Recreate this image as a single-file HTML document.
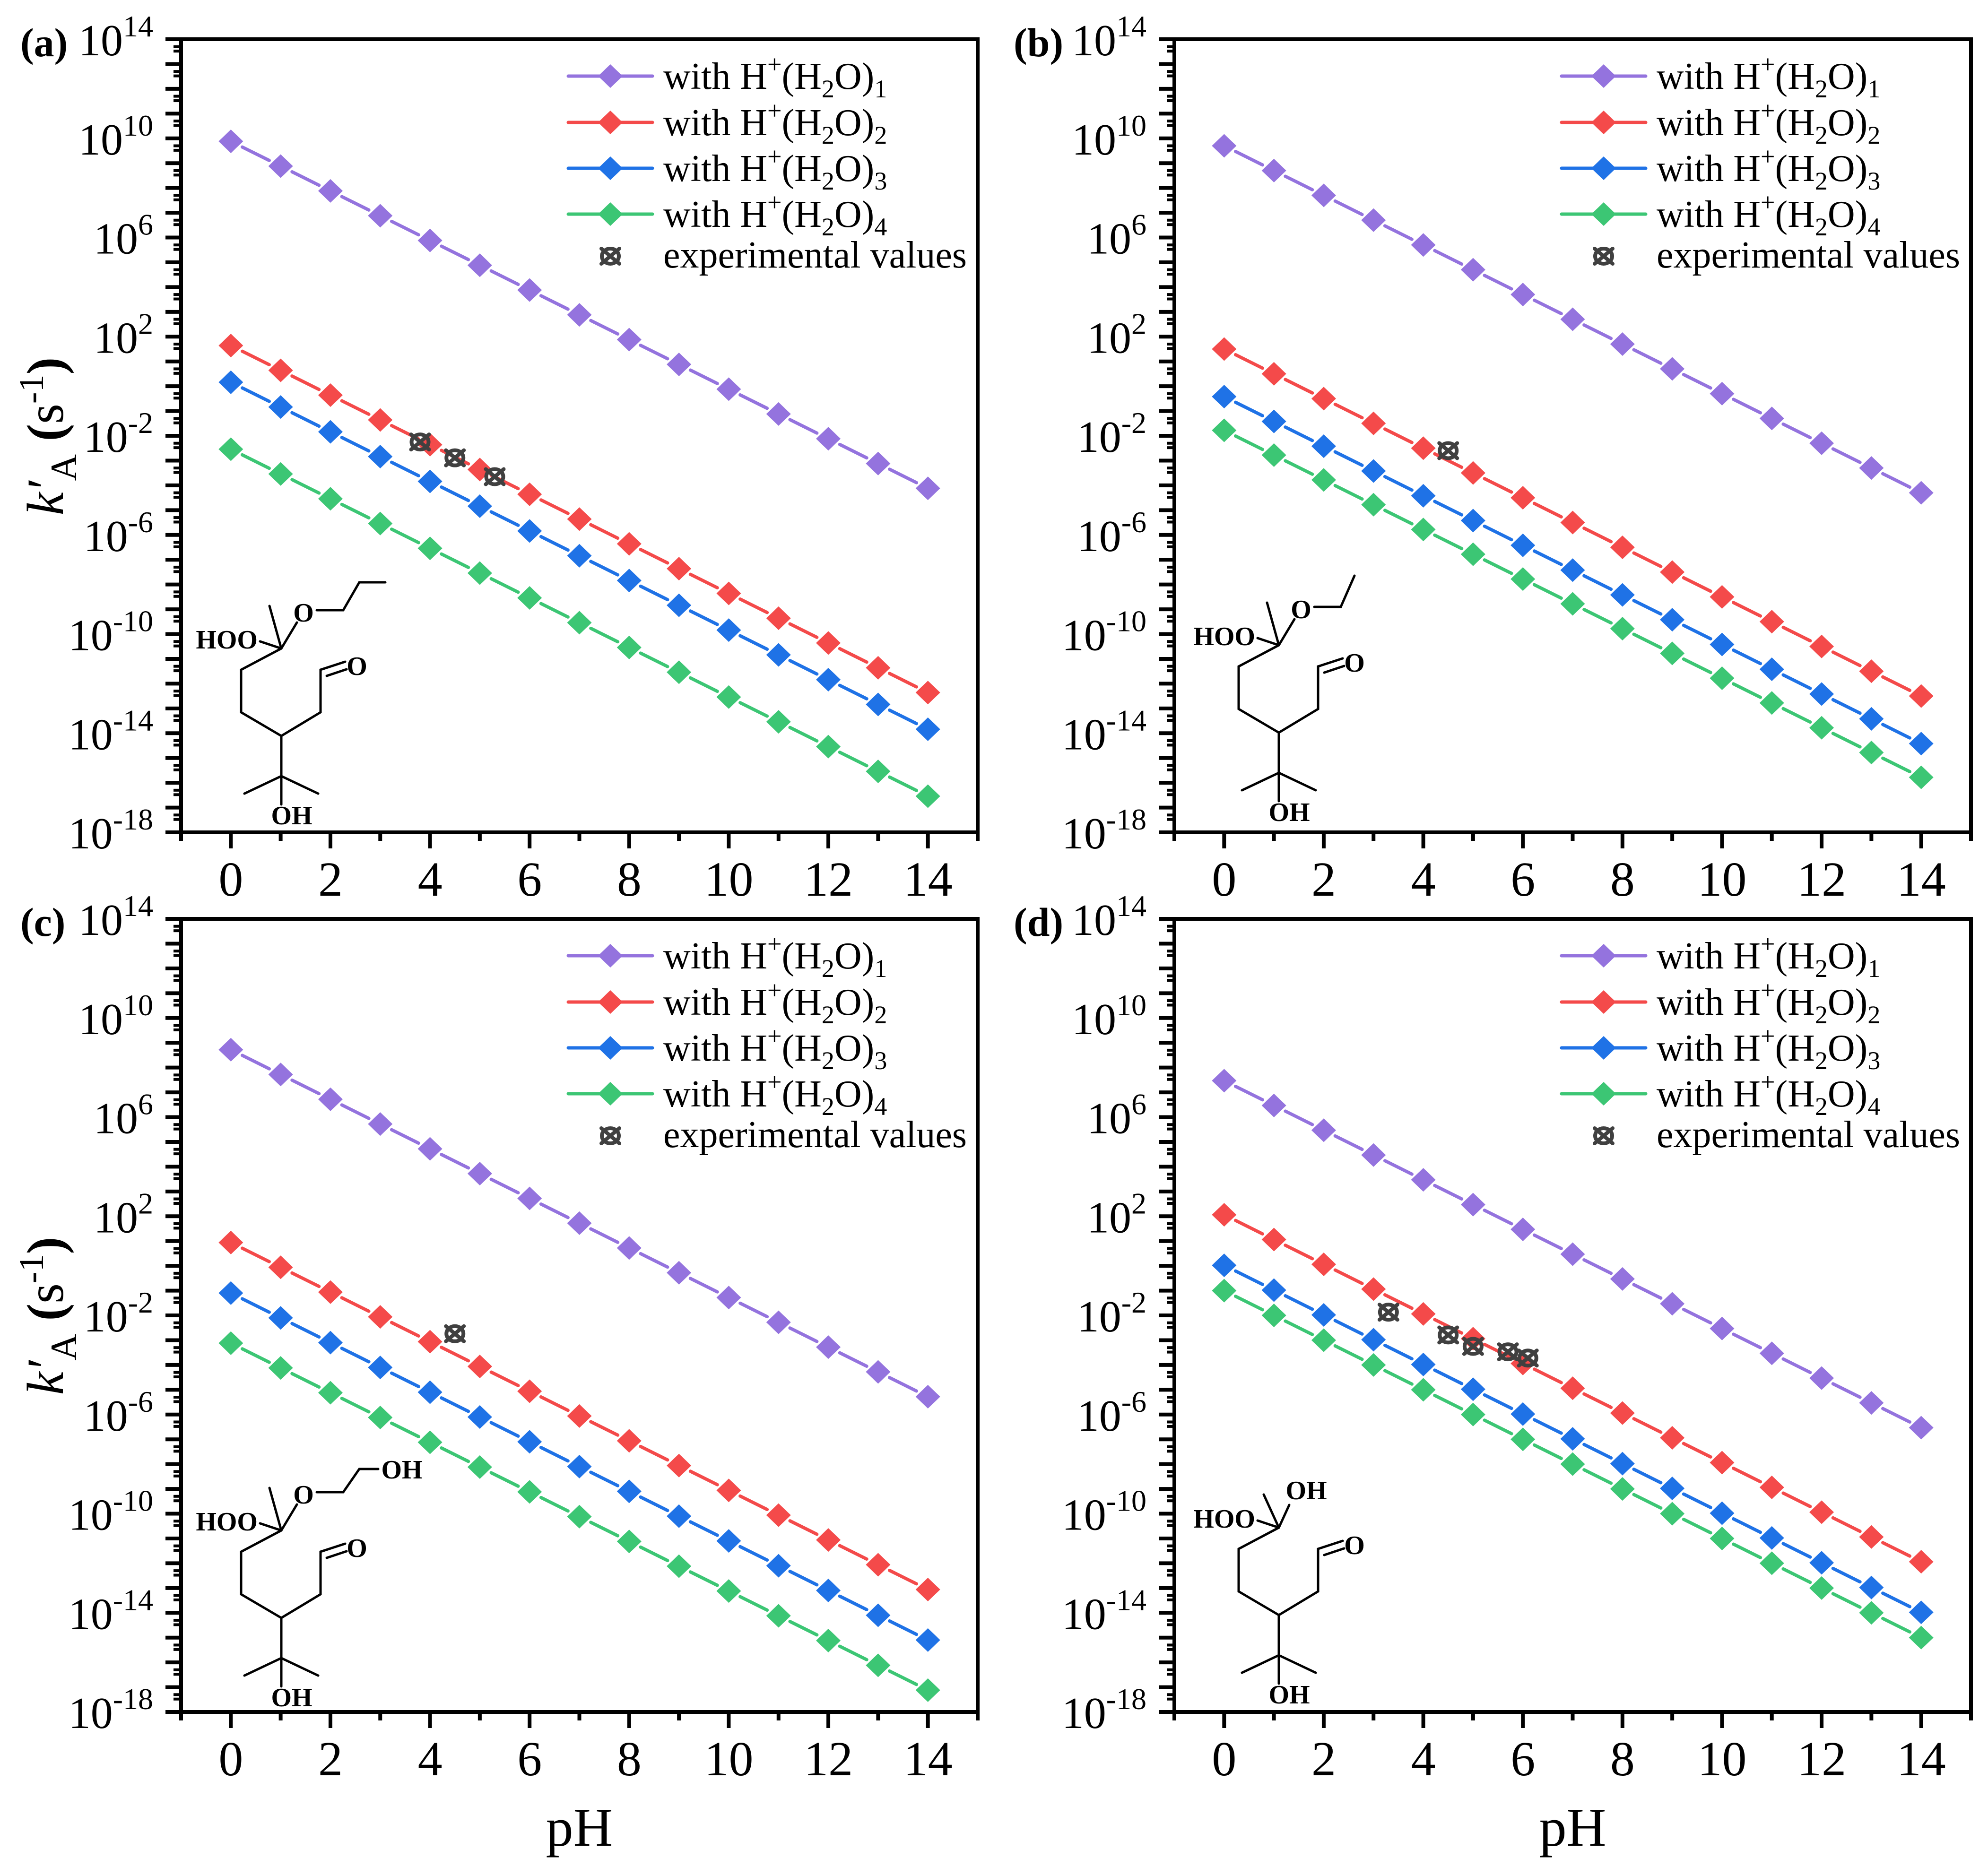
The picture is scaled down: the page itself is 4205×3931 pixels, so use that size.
<!DOCTYPE html>
<html><head><meta charset="utf-8">
<style>
html,body{margin:0;padding:0;background:#fff;}
svg{display:block;font-family:"Liberation Serif","Times New Roman",serif;}
</style></head>
<body>
<svg id="fig" xmlns="http://www.w3.org/2000/svg" width="4205" height="3931" viewBox="0 0 4205 3931"></svg>
<script>
// ---- data (log10 of k'A, s^-1) ----
const pHValues = [0,1,2,3,4,5,6,7,8,9,10,11,12,13,14];
const seriesNames = ["with H+(H2O)1","with H+(H2O)2","with H+(H2O)3","with H+(H2O)4"];
const yTickExps = [14,10,6,2,-2,-6,-10,-14,-18];
const xTickLabels = [0,2,4,6,8,10,12,14];

const aPurple = [9.88,8.88,7.88,6.88,5.88,4.88,3.88,2.88,1.88,0.88,-0.12,-1.12,-2.12,-3.12,-4.12];
const aRed    = [1.64,0.64,-0.36,-1.36,-2.36,-3.36,-4.36,-5.36,-6.36,-7.36,-8.36,-9.36,-10.36,-11.36,-12.36];
const aBlue   = [0.16,-0.84,-1.84,-2.84,-3.84,-4.84,-5.84,-6.84,-7.84,-8.84,-9.84,-10.84,-11.84,-12.84,-13.84];
const aGreen  = [-2.54,-3.54,-4.54,-5.54,-6.54,-7.54,-8.54,-9.54,-10.54,-11.54,-12.54,-13.54,-14.54,-15.54,-16.54];
const aExpPH  = [3.8,4.5,5.3];
const aExpLog = [-2.25,-2.89,-3.65];

const bPurple = [9.7,8.7,7.7,6.7,5.7,4.7,3.7,2.7,1.7,0.7,-0.3,-1.3,-2.3,-3.3,-4.3];
const bRed    = [1.5,0.5,-0.5,-1.5,-2.5,-3.5,-4.5,-5.5,-6.5,-7.5,-8.5,-9.5,-10.5,-11.5,-12.5];
const bBlue   = [-0.42,-1.42,-2.42,-3.42,-4.42,-5.42,-6.42,-7.42,-8.42,-9.42,-10.42,-11.42,-12.42,-13.42,-14.42];
const bGreen  = [-1.78,-2.78,-3.78,-4.78,-5.78,-6.78,-7.78,-8.78,-9.78,-10.78,-11.78,-12.78,-13.78,-14.78,-15.78];
const bExpPH  = [4.5];
const bExpLog = [-2.6];

const cPurple = [8.72,7.72,6.72,5.72,4.72,3.72,2.72,1.72,0.72,-0.28,-1.28,-2.28,-3.28,-4.28,-5.28];
const cRed    = [0.94,-0.06,-1.06,-2.06,-3.06,-4.06,-5.06,-6.06,-7.06,-8.06,-9.06,-10.06,-11.06,-12.06,-13.06];
const cBlue   = [-1.1,-2.1,-3.1,-4.1,-5.1,-6.1,-7.1,-8.1,-9.1,-10.1,-11.1,-12.1,-13.1,-14.1,-15.1];
const cGreen  = [-3.12,-4.12,-5.12,-6.12,-7.12,-8.12,-9.12,-10.12,-11.12,-12.12,-13.12,-14.12,-15.12,-16.12,-17.12];
const cExpPH  = [4.5];
const cExpLog = [-2.74];

const dPurple = [7.47,6.47,5.47,4.47,3.47,2.47,1.47,0.47,-0.53,-1.53,-2.53,-3.53,-4.53,-5.53,-6.53];
const dRed    = [2.06,1.06,0.06,-0.94,-1.94,-2.94,-3.94,-4.94,-5.94,-6.94,-7.94,-8.94,-9.94,-10.94,-11.94];
const dBlue   = [0.02,-0.98,-1.98,-2.98,-3.98,-4.98,-5.98,-6.98,-7.98,-8.98,-9.98,-10.98,-11.98,-12.98,-13.98];
const dGreen  = [-1.0,-2.0,-3.0,-4.0,-5.0,-6.0,-7.0,-8.0,-9.0,-10.0,-11.0,-12.0,-13.0,-14.0,-15.0];
const dExpPH  = [3.3,4.5,5.0,5.7,6.1];
const dExpLog = [-1.87,-2.79,-3.25,-3.47,-3.72];

const NS = "http://www.w3.org/2000/svg";
const svg = document.getElementById('fig');
const COLORS = ["#9473DE","#F44A4A","#1F72E6","#3CC674"];
const EXPC = "#404040";

function mk(tag, attrs, parent){
  const e = document.createElementNS(NS, tag);
  for (const k in attrs) e.setAttribute(k, attrs[k]);
  (parent||svg).appendChild(e);
  return e;
}

const PANEL_W = 1685, PANEL_H = 1678;
const panels = [
  {id:'a', left:383,  top:83,   series:[aPurple,aRed,aBlue,aGreen], ePH:aExpPH, eLog:aExpLog, sub:'propyl', ylabel:true,  xlabel:false},
  {id:'b', left:2484, top:83,   series:[bPurple,bRed,bBlue,bGreen], ePH:bExpPH, eLog:bExpLog, sub:'ethyl',  ylabel:false, xlabel:false},
  {id:'c', left:383,  top:1944, series:[cPurple,cRed,cBlue,cGreen], ePH:cExpPH, eLog:cExpLog, sub:'hydroxyethyl', ylabel:true,  xlabel:true},
  {id:'d', left:2484, top:1944, series:[dPurple,dRed,dBlue,dGreen], ePH:dExpPH, eLog:dExpLog, sub:'hydroxy', ylabel:false, xlabel:true}
];

function diamond(g, x, y, color){
  const p = mk('polygon', {points:`${x},${y-25} ${x+26},${y} ${x},${y+25} ${x-26},${y}`, fill:color}, g);
  
  
  return p;
}
function expMarker(g, x, y){
  const m = mk('g', {stroke:EXPC, 'stroke-width':8, fill:'none', 'stroke-linecap':'round'}, g);
  
  
  mk('ellipse', {cx:x, cy:y, rx:18, ry:16}, m);
  mk('line', {x1:x-19, y1:y-16, x2:x+19, y2:y+16}, m);
  mk('line', {x1:x-19, y1:y+16, x2:x+19, y2:y-16}, m);
}

function drawPanel(P){
  const xs = v => P.left + (v + 1) * (PANEL_W / 16);
  const ys = v => P.top + (14 - v) * (PANEL_H / 32);
  const g = mk('g', {});
  
  

  // series
  P.series.forEach((vals, si) => {
    const sg = mk('g', {});
    
    
    g.appendChild(sg);
    for (let i = 0; i < pHValues.length - 1; i++){
      const x1 = xs(pHValues[i]), y1 = ys(vals[i]), x2 = xs(pHValues[i+1]), y2 = ys(vals[i+1]);
      const dx = x2-x1, dy = y2-y1, L = Math.hypot(dx,dy), gap = 27;
      const seg = mk('line', {x1:x1+dx*gap/L, y1:y1+dy*gap/L, x2:x2-dx*gap/L, y2:y2-dy*gap/L,
        stroke:COLORS[si], 'stroke-width':7, 'stroke-linecap':'round'}, sg);
      
      
    }
    pHValues.forEach((ph, i) => diamond(sg, xs(ph), ys(vals[i]), COLORS[si]));
  });
  P.ePH.forEach((ph, i) => expMarker(g, xs(ph), ys(P.eLog[i])));

  // axes frame
  const fr = mk('rect', {x:P.left, y:P.top, width:PANEL_W, height:PANEL_H, fill:'none', stroke:'#000', 'stroke-width':8}, g);
  
  

  // y ticks
  for (let e = 14; e >= -18; e--){
    const y = ys(e);
    mk('line', {x1:P.left-33, y1:y, x2:P.left, y2:y, stroke:'#000', 'stroke-width':8}, g);
    if (e > -18){
      [0.3, 0.48].forEach(f => {
        const yy = ys(e - f);
        mk('line', {x1:P.left-16, y1:yy, x2:P.left, y2:yy, stroke:'#000', 'stroke-width':6}, g);
      });
    }
  }
  yTickExps.forEach(e => {
    const t = mk('text', {x:P.left-59, y:ys(e)+34, 'text-anchor':'end', 'font-size':94, fill:'#000'}, g);
    
    
    const t1 = mk('tspan', {}, t); t1.textContent = '10';
    const t2 = mk('tspan', {dy:-40, 'font-size':64}, t); t2.textContent = String(e).replace('-', '-');
  });
  // x ticks
  for (let v = -1; v <= 15; v++){
    const x = xs(v);
    const major = (v % 2 === 0) && v >= 0 && v <= 14;
    mk('line', {x1:x, y1:P.top+PANEL_H, x2:x, y2:P.top+PANEL_H+(major?34:18), stroke:'#000', 'stroke-width':8}, g);
  }
  xTickLabels.forEach(v => {
    const t = mk('text', {x:xs(v), y:P.top+PANEL_H+134, 'text-anchor':'middle', 'font-size':104, fill:'#000'}, g);
    
    
    t.textContent = v;
  });

  // panel label
  const pl = mk('text', {x:P.left-340, y:P.top+36, 'font-size':86, 'font-weight':'bold', fill:'#000'}, g);
  
  
  pl.textContent = '(' + P.id + ')';

  // axis titles
  if (P.ylabel){
    const cy = P.top + 840;
    const yt = mk('text', {x:0, y:0, 'font-size':110, fill:'#000', 'text-anchor':'middle',
      transform:`translate(${P.left-250},${cy}) rotate(-90)`}, g);
    
    
    const k = mk('tspan', {'font-style':'italic'}, yt); k.textContent = 'k\u2032';
    const A = mk('tspan', {dy:28, 'font-size':78}, yt); A.textContent = 'A';
    const s1 = mk('tspan', {dy:-28, 'font-weight':'bold'}, yt); s1.textContent = ' (';
    const s2 = mk('tspan', {}, yt); s2.textContent = 's';
    const s3 = mk('tspan', {dy:-42, 'font-size':74}, yt); s3.textContent = '-1';
    const s4 = mk('tspan', {dy:42, 'font-weight':'bold'}, yt); s4.textContent = ')';
  }
  if (P.xlabel){
    const xt = mk('text', {x:xs(7), y:3905, 'text-anchor':'middle', 'font-size':116, fill:'#000'}, g);
    
    
    xt.textContent = 'pH';
  }

  // legend
  const lg = mk('g', {}, g);
  
  
  const lx = P.left + 819;
  const rows = [78,176,273,370,459];
  seriesNames.forEach((nm, i) => {
    const y = P.top + rows[i];
    const en = mk('g', {}, lg);
    
    
    mk('line', {x1:lx, y1:y, x2:lx+178, y2:y, stroke:COLORS[i], 'stroke-width':7, 'stroke-linecap':'round'}, en);
    diamond(en, lx+89, y, COLORS[i]);
    const t = mk('text', {x:lx+201, y:y+27, 'font-size':80, fill:'#000'}, en);
    const a1 = mk('tspan', {}, t); a1.textContent = 'with H';
    const a2 = mk('tspan', {dy:-34, 'font-size':54}, t); a2.textContent = '+';
    const a3 = mk('tspan', {dy:34}, t); a3.textContent = '(H';
    const a4 = mk('tspan', {dy:18, 'font-size':54}, t); a4.textContent = '2';
    const a5 = mk('tspan', {dy:-18}, t); a5.textContent = 'O)';
    const a6 = mk('tspan', {dy:18, 'font-size':54}, t); a6.textContent = String(i+1);
  });
  const ey = P.top + rows[4];
  const ee = mk('g', {}, lg);
  
  
  expMarker(ee, lx+89, ey);
  const et = mk('text', {x:lx+201, y:ey+24, 'font-size':80, fill:'#000'}, ee);
  et.textContent = 'experimental values';

  drawStructure(g, P);
}

function drawStructure(parent, P){
  const C1 = {a:[595,1372], b:[2705,1365], c:[595,3238], d:[2705,3232]}[P.id];
  const s = mk('g', {transform:`translate(${C1[0]},${C1[1]})`, stroke:'#000', 'stroke-width':5,
    fill:'none', 'stroke-linecap':'round', 'stroke-linejoin':'miter'}, parent);
  
  
  const T = (x,y,str,anchor) => {
    const t = mk('text', {x:x, y:y, 'font-size':56, 'font-weight':'bold', fill:'#000', stroke:'none',
      'text-anchor':anchor||'middle'}, s);
    t.textContent = str;
  };
  // common backbone
  mk('polyline', {points:'0,0 -85,45 -85,135 0,185 83,135 83,45 135,28'}, s);
  mk('line', {x1:96, y1:58, x2:138, y2:44}, s);
  T(160, 56, 'O');
  mk('line', {x1:0, y1:185, x2:0, y2:330}, s);
  mk('polyline', {points:'-78,307 0,270 78,307'}, s);
  T(22, 372, 'OH');
  mk('line', {x1:-45, y1:-15, x2:0, y2:0}, s);
  T(-50, 0, 'HOO', 'end');
  if (P.sub === 'hydroxy'){
    mk('line', {x1:0, y1:0, x2:-32, y2:-70}, s);
    mk('line', {x1:0, y1:0, x2:22, y2:-48}, s);
    T(58, -60, 'OH');
  } else {
    mk('line', {x1:0, y1:0, x2:-25, y2:-90}, s);
    mk('line', {x1:0, y1:0, x2:33, y2:-55}, s);
    T(47, -57, 'O');
    if (P.sub === 'ethyl'){
      mk('polyline', {points:'75,-81 131,-81 160,-147'}, s);
    } else if (P.sub === 'propyl'){
      mk('polyline', {points:'75,-81 131,-81 165,-140 220,-140'}, s);
    } else {
      mk('polyline', {points:'75,-81 131,-81 165,-130 205,-130'}, s);
      T(255, -110, 'OH');
    }
  }
}

panels.forEach(drawPanel);
</script>
</body></html>
